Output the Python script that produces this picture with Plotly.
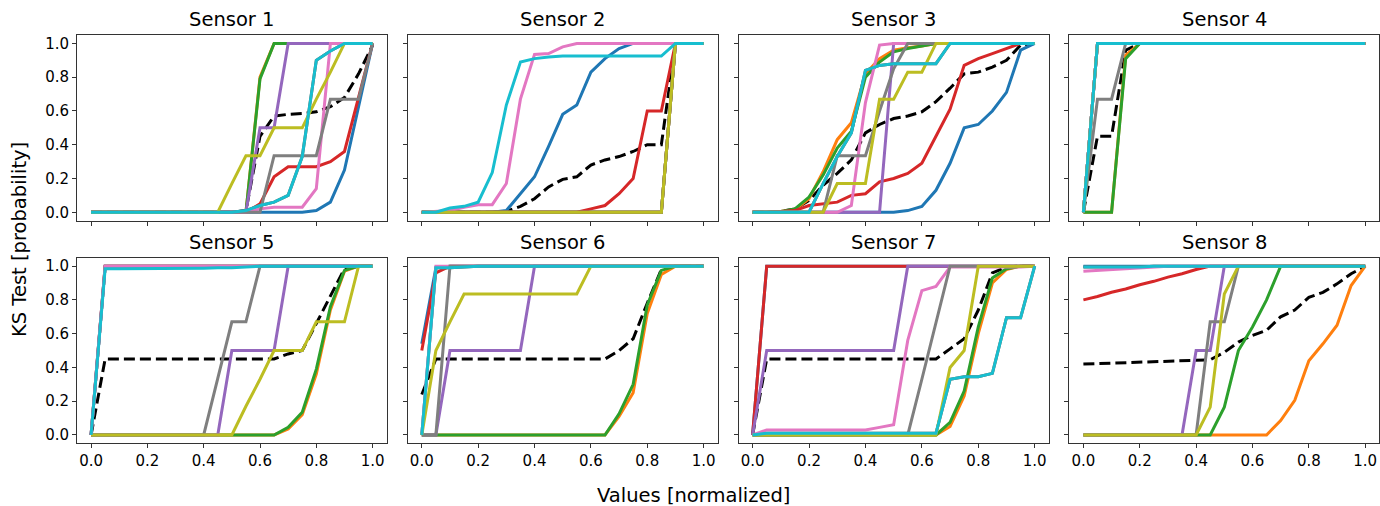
import plotly.graph_objects as go

# ---------------- data ----------------
X = [0.0, 0.05, 0.1, 0.15, 0.2, 0.25, 0.3, 0.35, 0.4, 0.45, 0.5,
     0.55, 0.6, 0.65, 0.7, 0.75, 0.8, 0.85, 0.9, 0.95, 1.0]

SENSOR_NAMES = ["Sensor 1", "Sensor 2", "Sensor 3", "Sensor 4",
                "Sensor 5", "Sensor 6", "Sensor 7", "Sensor 8"]

SERIES_NAMES = ["blue", "orange", "green", "red", "purple",
                "brown", "pink", "gray", "olive", "cyan"]

SERIES_COLORS = ["#1f77b4", "#ff7f0e", "#2ca02c", "#d62728", "#9467bd",
                 "#8c564b", "#e377c2", "#7f7f7f", "#bcbd22", "#17becf"]

# Sensor 1
S1 = dict(
    blue=[0]*16 + [0.01, 0.06, 0.25, 0.62, 1.0],
    orange=[0]*12 + [0.80] + [1.0]*8,
    green=[0]*12 + [0.79] + [1.0]*8,
    red=[0]*12 + [0.05, 0.21, 0.27, 0.27, 0.27, 0.30, 0.36, 0.68, 1.0],
    purple=[0]*12 + [0.5, 0.5] + [1.0]*7,
    brown=[0]*11 + [0.01, 0.04, 0.06, 0.10, 0.33, 0.90, 0.955, 1.0, 1.0, 1.0],
    pink=[0]*12 + [0.02, 0.03, 0.03, 0.03, 0.14] + [1.0]*4,
    gray=[0]*13 + [0.335, 0.335, 0.335, 0.335, 0.67, 0.67, 0.67, 1.0],
    olive=[0]*10 + [0.17, 0.335, 0.335, 0.5, 0.5, 0.5, 0.67, 0.83, 1.0, 1.0, 1.0],
    cyan=[0]*11 + [0.01, 0.04, 0.06, 0.10, 0.33, 0.90, 0.955, 1.0, 1.0, 1.0],
)
M1 = [0]*11 + [0.01, 0.45, 0.57, 0.58, 0.585, 0.595, 0.625, 0.68, 0.82, 0.99]

# Sensor 2
S2 = dict(
    blue=[0]*6 + [0.01, 0.11, 0.21, 0.39, 0.58, 0.635, 0.83, 0.91, 0.97] + [1.0]*6,
    orange=[0]*18 + [1.0]*3,
    green=[0]*18 + [1.0]*3,
    red=[0]*12 + [0.02, 0.04, 0.11, 0.2, 0.6, 0.6, 1.0, 1.0, 1.0],
    purple=[0]*18 + [1.0]*3,
    brown=[0]*18 + [1.0]*3,
    pink=[0, 0.005, 0.01, 0.03, 0.045, 0.045, 0.17, 0.67, 0.935, 0.94, 0.98] + [1.0]*10,
    gray=[0]*18 + [1.0]*3,
    olive=[0]*18 + [1.0]*3,
    cyan=[0, 0, 0.025, 0.035, 0.06, 0.235, 0.635, 0.89, 0.91, 0.92] + [0.925]*8 + [1.0]*3,
)
M2 = [0]*6 + [0.005, 0.035, 0.08, 0.15, 0.195, 0.21, 0.28, 0.31, 0.33, 0.36, 0.4, 0.4, 1.0, 1.0, 1.0]

# Sensor 3
S3 = dict(
    blue=[0]*11 + [0.01, 0.034, 0.13, 0.29, 0.5, 0.52, 0.6, 0.71, 0.96, 1.0],
    orange=[0, 0, 0.005, 0.015, 0.08, 0.24, 0.43, 0.53, 0.82, 0.91, 0.96, 0.975, 0.985] + [1.0]*8,
    green=[0, 0, 0.005, 0.02, 0.09, 0.22, 0.38, 0.48, 0.80, 0.89, 0.95, 0.97, 0.985] + [1.0]*8,
    red=[0, 0, 0.005, 0.01, 0.04, 0.05, 0.06, 0.10, 0.11, 0.18, 0.20, 0.23, 0.29, 0.45,
         0.61, 0.87, 0.91, 0.94, 0.97, 1.0, 1.0],
    purple=[0]*10 + [1.0]*11,
    brown=[0]*5 + [0.17, 0.33, 0.47, 0.84, 0.87, 0.88, 0.88, 0.88, 0.88] + [1.0]*7,
    pink=[0]*7 + [0.04, 0.65, 0.99] + [1.0]*11,
    gray=[0]*6 + [0.335, 0.335, 0.335, 0.6, 0.85] + [1.0]*10,
    olive=[0]*6 + [0.17, 0.17, 0.17, 0.67, 0.67, 0.83, 0.83] + [1.0]*8,
    cyan=[0]*5 + [0.17, 0.33, 0.47, 0.84, 0.87, 0.88, 0.88, 0.88, 0.88] + [1.0]*7,
)
M3 = [0, 0, 0.005, 0.02, 0.07, 0.16, 0.23, 0.31, 0.47, 0.52, 0.555, 0.57, 0.595,
      0.655, 0.735, 0.82, 0.83, 0.86, 0.9, 0.99, 1.0]

# Sensor 4
S4 = dict(
    blue=[0] + [1.0]*20,
    orange=[0, 0, 0, 0.93] + [1.0]*17,
    green=[0, 0, 0, 0.91] + [1.0]*17,
    red=[0] + [1.0]*20,
    purple=[0] + [1.0]*20,
    brown=[0] + [1.0]*20,
    pink=[0] + [1.0]*20,
    gray=[0, 0.67, 0.67] + [1.0]*18,
    olive=[0] + [1.0]*20,
    cyan=[0] + [1.0]*20,
)
M4 = [0, 0.45, 0.45, 0.96] + [1.0]*17

# Sensor 5
S5 = dict(
    blue=[0] + [1.0]*20,
    orange=[0]*14 + [0.035, 0.12, 0.36, 0.74, 0.97, 1.0, 1.0],
    green=[0]*14 + [0.045, 0.135, 0.39, 0.76, 0.975, 1.0, 1.0],
    red=[0] + [1.0]*20,
    purple=[0]*10 + [0.5, 0.5, 0.5, 0.5] + [1.0]*7,
    brown=[0] + [1.0]*20,
    pink=[0] + [1.0]*20,
    gray=[0]*9 + [0.335, 0.67, 0.67] + [1.0]*9,
    olive=[0]*11 + [0.17, 0.33, 0.5, 0.5, 0.5, 0.67, 0.67, 0.67] + [1.0]*2,
    cyan=[0, 0.985, 0.985, 0.985, 0.985, 0.985, 0.985, 0.987, 0.988, 0.99, 0.99, 0.995] + [1.0]*9,
)
M5 = [0, 0.45] + [0.45]*12 + [0.48, 0.5, 0.66, 0.82, 0.985, 1.0, 1.0]

# Sensor 6
S6 = dict(
    blue=[0.54, 0.99] + [1.0]*19,
    orange=[0]*14 + [0.11, 0.25, 0.72, 0.95] + [1.0]*3,
    green=[0]*14 + [0.125, 0.3, 0.77, 0.975] + [1.0]*3,
    red=[0.5, 0.96] + [1.0]*19,
    purple=[0, 0] + [0.5]*6 + [1.0]*13,
    brown=[0, 0.99, 0.99, 0.995] + [1.0]*17,
    pink=[0] + [1.0]*20,
    gray=[0, 0] + [1.0]*19,
    olive=[0, 0.5, 0.67] + [0.835]*9 + [1.0]*9,
    cyan=[0, 0.99, 0.99, 0.995] + [1.0]*17,
)
M6 = [0.24] + [0.45]*13 + [0.5, 0.57, 0.78, 0.98] + [1.0]*3

# Sensor 7
S7 = dict(
    blue=[0] + [1.0]*20,
    orange=[0]*14 + [0.05, 0.23, 0.6, 0.9, 0.98, 1.0, 1.0],
    green=[0]*14 + [0.075, 0.26, 0.64, 0.93, 0.985, 1.0, 1.0],
    red=[0] + [1.0]*20,
    purple=[0] + [0.5]*10 + [1.0]*10,
    brown=[0] + [0.01]*13 + [0.33, 0.345, 0.345, 0.365, 0.695, 0.695, 1.0],
    pink=[0] + [0.03]*8 + [0.045, 0.06, 0.56, 0.855, 0.88] + [0.995]*6 + [1.0],
    gray=[0]*12 + [0.33, 0.67] + [1.0]*7,
    olive=[0]*14 + [0.4, 0.5] + [1.0]*5,
    cyan=[0] + [0.01]*13 + [0.33, 0.345, 0.345, 0.365, 0.695, 0.695, 1.0],
)
M7 = [0] + [0.45]*13 + [0.51, 0.57, 0.74, 0.96, 0.995, 1.0, 1.0]

# Sensor 8
S8 = dict(
    blue=[1.0]*21,
    orange=[0]*14 + [0.085, 0.205, 0.44, 0.54, 0.65, 0.885, 1.0],
    green=[0]*10 + [0.165, 0.5, 0.64, 0.8] + [1.0]*7,
    red=[0.8, 0.82, 0.845, 0.865, 0.89, 0.91, 0.935, 0.955, 0.98] + [1.0]*12,
    purple=[0]*8 + [0.5, 0.5] + [1.0]*11,
    brown=[0.995]*5 + [1.0]*16,
    pink=[0.97, 0.975, 0.98, 0.985, 0.99, 0.995] + [1.0]*15,
    gray=[0]*9 + [0.67, 0.67] + [1.0]*10,
    olive=[0]*9 + [0.165, 0.835] + [1.0]*10,
    cyan=[0.995]*5 + [1.0]*16,
)
M8 = [0.42, 0.423, 0.426, 0.429, 0.432, 0.435, 0.437, 0.44, 0.443, 0.445, 0.49,
      0.55, 0.59, 0.62, 0.7, 0.74, 0.815, 0.845, 0.895, 0.955, 1.0]

SENSORS = [S1, S2, S3, S4, S5, S6, S7, S8]
MEANS = [M1, M2, M3, M4, M5, M6, M7, M8]

Y_TICKS = [0.0, 0.2, 0.4, 0.6, 0.8, 1.0]
Y_TICK_TEXT = ["0.0", "0.2", "0.4", "0.6", "0.8", "1.0"]
X_TICKS = [0.0, 0.2, 0.4, 0.6, 0.8, 1.0]
X_TICK_TEXT = ["0.0", "0.2", "0.4", "0.6", "0.8", "1.0"]

# ---------------- layout ----------------
W, H = 1380, 506
COL_PX = [(77.0, 386.7), (407.7, 717.7), (738.5, 1048.8), (1069.3, 1379.3)]
ROW_PX = [(35.0, 220.7), (257.7, 443.4)]

FONT = "DejaVu Sans"
AXC = "#333333"

fig = go.Figure()
layout = dict(
    width=W, height=H,
    margin=dict(l=0, r=0, t=0, b=0),
    paper_bgcolor="white", plot_bgcolor="white",
    showlegend=False,
    font=dict(family=FONT, color="black"),
)
annotations = []

for k in range(8):
    r, c = divmod(k, 4)
    xa = "xaxis" if k == 0 else f"xaxis{k+1}"
    ya = "yaxis" if k == 0 else f"yaxis{k+1}"
    xr = "x" if k == 0 else f"x{k+1}"
    yr = "y" if k == 0 else f"y{k+1}"
    x0, x1 = COL_PX[c]
    y0, y1 = ROW_PX[r]
    common = dict(
        range=[-0.05, 1.05], showgrid=False, zeroline=False,
        showline=True, mirror=True, linecolor=AXC, linewidth=1,
        ticks="outside", ticklen=4, tickwidth=1, tickcolor=AXC,
        tickfont=dict(size=15, family=FONT, color="black"),
        fixedrange=True,
    )
    layout[xa] = dict(common, domain=[x0 / W, x1 / W], anchor=yr,
                      tickvals=X_TICKS, ticktext=X_TICK_TEXT,
                      showticklabels=(r == 1))
    layout[ya] = dict(common, domain=[1 - y1 / H, 1 - y0 / H], anchor=xr,
                      tickvals=Y_TICKS, ticktext=Y_TICK_TEXT,
                      showticklabels=(c == 0))

    # mean curve first, so the coloured curves sit on top of it
    fig.add_trace(go.Scatter(
        x=X, y=MEANS[k], mode="lines", xaxis=xr, yaxis=yr,
        line=dict(color="black", width=3, dash="11px,5px"), hoverinfo="skip"))
    data = SENSORS[k]
    for name, color in zip(SERIES_NAMES, SERIES_COLORS):
        fig.add_trace(go.Scatter(
            x=X, y=data[name], mode="lines", xaxis=xr, yaxis=yr,
            line=dict(color=color, width=3), hoverinfo="skip"))

    annotations.append(dict(
        text=SENSOR_NAMES[k], xref="paper", yref="paper",
        x=(x0 + x1) / 2 / W, y=1 - (y0 - 15) / H,
        xanchor="center", yanchor="middle", showarrow=False,
        font=dict(size=19.5, family=FONT, color="black")))

annotations.append(dict(
    text="Values [normalized]", xref="paper", yref="paper",
    x=693 / W, y=1 - 495 / H, xanchor="center", yanchor="middle",
    showarrow=False, font=dict(size=19.5, family=FONT, color="black")))
annotations.append(dict(
    text="KS Test [probability]", xref="paper", yref="paper",
    x=20 / W, y=1 - 240 / H, xanchor="center", yanchor="middle",
    textangle=-90, showarrow=False,
    font=dict(size=19.5, family=FONT, color="black")))

layout["annotations"] = annotations
fig.update_layout(**layout)
fig.write_html("out.html")
